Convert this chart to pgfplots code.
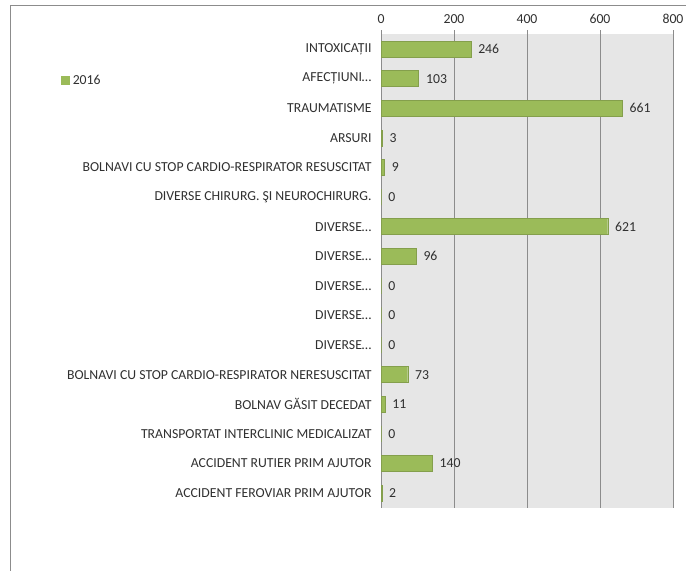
\documentclass[border=0pt]{standalone}
\usepackage{fontspec}
\setmainfont{Carlito}
\usepackage{pgfplots}
\pgfplotsset{compat=1.18}
\definecolor{bargreen}{HTML}{9BBB59}
\definecolor{plotbg}{HTML}{E6E6E6}
\definecolor{gridgray}{HTML}{8C8C8C}
\definecolor{txt}{HTML}{303030}
\newcommand{\lblfont}{\fontsize{13.8}{15}\selectfont}
\begin{document}
\begin{tikzpicture}[x=1bp,y=1bp]
\path[use as bounding box] (0,0) rectangle (686,-571);
\draw[gridgray, line width=0.8bp] (10,-571) -- (10,-5) -- (686,-5);
\begin{axis}[
  at={(381bp,-507.8bp)}, anchor=south west,
  scale only axis,
  width=292bp, height=473.6bp,
  xbar, bar width=16bp,
  xmin=0, xmax=800,
  ymin=-0.5, ymax=15.5,
  y dir=reverse,
  xtick={0,200,400,600,800},
  xtick pos=right, xticklabel pos=right,
  tick align=outside,
  major tick length=4bp,
  ytick={0,...,15},
  ytick style={draw=none},
  yticklabels={
    INTOXICAȚII,
    AFECȚIUNI…,
    TRAUMATISME,
    ARSURI,
    BOLNAVI CU STOP CARDIO-RESPIRATOR RESUSCITAT,
    DIVERSE CHIRURG. ŞI NEUROCHIRURG.,
    DIVERSE…,
    DIVERSE…,
    DIVERSE…,
    DIVERSE…,
    DIVERSE…,
    BOLNAVI CU STOP CARDIO-RESPIRATOR NERESUSCITAT,
    BOLNAV GĂSIT DECEDAT,
    TRANSPORTAT INTERCLINIC MEDICALIZAT,
    ACCIDENT RUTIER PRIM AJUTOR,
    ACCIDENT FEROVIAR PRIM AJUTOR
  },
  /pgf/number format/assume math mode=true,
  ticklabel style={font=\lblfont, text=txt},
  yticklabel style={xshift=-2bp},
  xticklabel style={yshift=3bp},
  axis line style={draw=none},
  axis background/.style={fill=plotbg},
  xmajorgrids,
  major grid style={gridgray, line width=0.6bp},
  x tick style={gridgray, line width=0.6bp},
  nodes near coords,
  nodes near coords style={font=\lblfont, text=txt, xshift=4bp},
  legend style={at={(-1.095,0.903)}, anchor=west, draw=none, fill=none,
    font=\lblfont, text=txt, inner sep=0pt, nodes={inner xsep=3bp}},
  legend image code/.code={\fill[bargreen] (0bp,-4bp) rectangle (8bp,4bp);},
]
\addplot[fill=bargreen, draw=bargreen!85!black, line width=0.3bp] coordinates {
  (246,0) (103,1) (661,2) (3,3) (9,4) (0,5) (621,6) (96,7)
  (0,8) (0,9) (0,10) (73,11) (11,12) (0,13) (140,14) (2,15)
};
\addlegendentry{2016}
\end{axis}
\end{tikzpicture}
\end{document}
